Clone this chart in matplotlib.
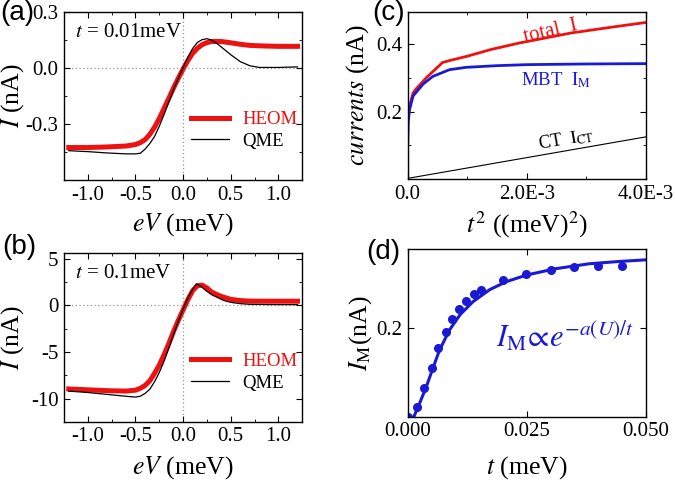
import numpy as np
import matplotlib
matplotlib.use("Agg")
import matplotlib.pyplot as plt

# ---------------------------------------------------------
# data
# ---------------------------------------------------------

# (a) t = 0.01 meV
va_heom = [-1.2, -1.0, -0.8, -0.6, -0.5, -0.45, -0.4, -0.35, -0.3, -0.25, -0.2, -0.15,
           -0.1, -0.05, 0.0, 0.05, 0.1, 0.15, 0.2, 0.25, 0.3, 0.4, 0.5, 0.6, 0.7, 0.85, 1.0, 1.2]
ia_heom = [-0.426, -0.426, -0.423, -0.418, -0.41, -0.40, -0.384, -0.356, -0.317, -0.27,
           -0.216, -0.162, -0.106, -0.054, -0.005, 0.040, 0.079, 0.106, 0.125, 0.136,
           0.142, 0.142, 0.135, 0.127, 0.121, 0.118, 0.116, 0.116]
va_qme = [-1.2, -1.0, -0.8, -0.6, -0.5, -0.45, -0.4, -0.35, -0.3, -0.25, -0.2, -0.15,
          -0.1, -0.05, 0.0, 0.05, 0.1, 0.15, 0.2, 0.25, 0.3, 0.35, 0.4, 0.5, 0.6, 0.7,
          0.8, 1.0, 1.2]
ia_qme = [-0.443, -0.448, -0.455, -0.46, -0.46, -0.457, -0.435, -0.405, -0.367, -0.312,
          -0.249, -0.182, -0.114, -0.055, 0.003, 0.058, 0.105, 0.137, 0.152, 0.157,
          0.149, 0.133, 0.113, 0.071, 0.034, 0.012, 0.003, 0.003, 0.006]

# (b) t = 0.1 meV
vb_heom = [-1.2, -1.0, -0.8, -0.6, -0.5, -0.45, -0.4, -0.35, -0.3, -0.25, -0.2, -0.15,
           -0.1, -0.05, 0.0, 0.05, 0.1, 0.15, 0.2, 0.25, 0.3, 0.4, 0.5, 0.6, 0.7, 0.9, 1.2]
ib_heom = [-8.97, -9.06, -9.15, -9.2, -9.1, -8.9, -8.6, -8.1, -7.3, -6.4, -5.3, -4.1,
           -2.8, -1.6, -0.5, 0.6, 1.56, 2.1, 2.15, 1.85, 1.4, 0.94, 0.63, 0.5, 0.44, 0.43, 0.43]
vb_qme = [-1.2, -1.0, -0.8, -0.6, -0.5, -0.45, -0.4, -0.35, -0.3, -0.25, -0.2, -0.15,
          -0.1, -0.05, 0.0, 0.05, 0.1, 0.14, 0.19, 0.24, 0.3, 0.37, 0.43, 0.5, 0.6, 0.7,
          0.9, 1.2]
ib_qme = [-9.2, -9.35, -9.55, -9.75, -9.84, -9.75, -9.45, -9.0, -8.2, -7.2, -6.0, -4.6,
          -3.1, -1.7, -0.4, 0.8, 1.7, 2.28, 2.0, 1.56, 1.12, 0.78, 0.5, 0.31, 0.17, 0.1,
          0.07, 0.06]

# (c) currents vs t^2
t2_tot = [0.0, 0.0, 0.00001, 0.00003, 0.00009, 0.000145, 0.000256, 0.00031, 0.00042,
          0.00053, 0.00058, 0.0007, 0.001, 0.0014, 0.00187, 0.00275, 0.0035, 0.004]
i_tot = [0.0, 0.167, 0.19, 0.215, 0.255, 0.268, 0.289, 0.30, 0.318, 0.336, 0.345, 0.351,
         0.364, 0.384, 0.403, 0.433, 0.452, 0.464]
t2_mbt = [0.0, 0.00001, 0.00003, 0.00009, 0.000256, 0.00042, 0.0007, 0.00098, 0.0015,
          0.002, 0.003, 0.004]
i_mbt = [0.10, 0.17, 0.205, 0.246, 0.281, 0.304, 0.324, 0.331, 0.336, 0.339, 0.341, 0.342]
t2_ct = [0.0, 0.004]
i_ct = [0.002, 0.125]

# (d) I_M vs t: HEOM points and fit
t_pts = [0.0, 0.0019, 0.0034, 0.005, 0.0064, 0.008, 0.0094, 0.0108, 0.0123, 0.0139,
         0.0154, 0.0199, 0.0249, 0.030, 0.035, 0.040, 0.045]
im_pts = [0.0, 0.022, 0.064, 0.110, 0.154, 0.191, 0.220, 0.242, 0.260, 0.275, 0.285,
          0.307, 0.320, 0.330, 0.335, 0.337, 0.339]
t_fit = [0.0013, 0.0025, 0.0039, 0.0053, 0.0067, 0.0088, 0.011, 0.0137, 0.0172, 0.0207,
         0.025, 0.031, 0.038, 0.044, 0.05]
im_fit = [0.0, 0.030, 0.067, 0.109, 0.150, 0.195, 0.229, 0.258, 0.285, 0.303, 0.318,
          0.332, 0.343, 0.348, 0.352]

v_ticks = [-1.0, -0.5, 0.0, 0.5, 1.0]
v_ticklabels = ["-1.0", "-0.5", "0.0", "0.5", "1.0"]
ya_ticks = [-0.3, 0.0, 0.3]
ya_ticklabels = ["-0.3", "0.0", "0.3"]
yb_ticks = [-10, -5, 0, 5]
yb_ticklabels = ["-10", "-5", "0", "5"]
xc_ticks = [0.0, 0.002, 0.004]
xc_ticklabels = ["0.0", "2.0E-3", "4.0E-3"]
yc_ticks = [0.2, 0.4]
yc_ticklabels = ["0.2", "0.4"]
xd_ticks = [0.0, 0.025, 0.05]
xd_ticklabels = ["0.000", "0.025", "0.050"]
yd_ticks = [0.2]
yd_ticklabels = ["0.2"]

# ---------------------------------------------------------
# style
# ---------------------------------------------------------

plt.rcParams["font.family"] = ["Liberation Serif", "DejaVu Serif"]
plt.rcParams["mathtext.fontset"] = "stix"
plt.rcParams["xtick.direction"] = "in"
plt.rcParams["ytick.direction"] = "in"
plt.rcParams["xtick.top"] = True
plt.rcParams["ytick.right"] = True
plt.rcParams["xtick.major.size"] = 4
plt.rcParams["ytick.major.size"] = 4
plt.rcParams["xtick.minor.size"] = 2.5
plt.rcParams["ytick.minor.size"] = 2.5
plt.rcParams["axes.linewidth"] = 1.0

RED = "#ee1111"
BLUE = "#1a1ad6"
TICK_FS = 15
LABEL_FS = 18.5

fig = plt.figure(figsize=(6.75, 4.8), dpi=100)

ax_a = fig.add_axes([0.0948, 0.625, 0.353, 0.35])
ax_b = fig.add_axes([0.0948, 0.121, 0.353, 0.352])
ax_c = fig.add_axes([0.604, 0.627, 0.353, 0.348])
ax_d = fig.add_axes([0.604, 0.132, 0.353, 0.349])


def style_axis(ax, xt, xtl, yt, ytl):
    ax.set_xticks(xt)
    ax.set_xticklabels(xtl)
    ax.set_yticks(yt)
    ax.set_yticklabels(ytl)
    ax.tick_params(labelsize=TICK_FS, pad=4)


# ---------------------------------------------------------
# (a) and (b)
# ---------------------------------------------------------

for ax, vh, ih, vq, iq, yt, ytl, ylim, yminor, tlabel in [
    (ax_a, va_heom, ia_heom, va_qme, ia_qme, ya_ticks, ya_ticklabels,
     (-0.55, 0.3), 0.15, "$t$ = 0.01meV"),
    (ax_b, vb_heom, ib_heom, vb_qme, ib_qme, yb_ticks, yb_ticklabels,
     (-10.5, 5.6), 2.5, "$t$ = 0.1meV"),
]:
    ax.axhline(0, color="#999999", lw=0.9, ls=(0, (1, 2)), zorder=1)
    ax.axvline(0, color="#999999", lw=0.9, ls=(0, (1, 2)), zorder=1)
    ax.plot(vh, ih, color=RED, lw=3.6, label="HEOM", zorder=2)
    ax.plot(vq, iq, color="black", lw=0.9, label="QME", zorder=3)
    ax.set_xlim(-1.2, 1.2)
    ax.set_ylim(*ylim)
    style_axis(ax, v_ticks, v_ticklabels, yt, ytl)
    ax.set_xticks(np.arange(-1.25, 1.3, 0.25), minor=True)
    ax.set_yticks(np.arange(-12.5, 6, yminor) if yminor > 1 else np.arange(-0.6, 0.31, yminor),
                  minor=True)
    ax.set_xlabel("$eV$ (meV)", fontsize=LABEL_FS)
    ax.set_ylabel("$I$ (nA)", fontsize=LABEL_FS)
    ax.yaxis.set_label_coords(-0.16, 0.5)
    ax.text(0.046, 0.85, tlabel, transform=ax.transAxes, fontsize=15, va="baseline")
    leg = ax.legend(loc="upper left", bbox_to_anchor=(0.535, 0.41), frameon=False,
                    fontsize=13.5, handlelength=2.0, handletextpad=0.7,
                    labelspacing=0.25, borderpad=0, borderaxespad=0)
    leg.get_texts()[0].set_color(RED)

ax_a.xaxis.set_label_coords(0.5, -0.185)
ax_b.xaxis.set_label_coords(0.5, -0.19)

# ---------------------------------------------------------
# (c)
# ---------------------------------------------------------

ax_c.plot(t2_ct, i_ct, color="black", lw=0.8)
ax_c.plot(t2_tot, i_tot, color=RED, lw=2.0)
ax_c.plot(t2_mbt, i_mbt, color=BLUE, lw=2.0)
ax_c.set_xlim(0, 0.004)
ax_c.set_ylim(0, 0.495)
style_axis(ax_c, xc_ticks, xc_ticklabels, yc_ticks, yc_ticklabels)
ax_c.set_xticks([0.001, 0.003], minor=True)
ax_c.set_yticks([0.1, 0.3], minor=True)
ax_c.set_xlabel("$t^2$ ((meV)$^2$)", fontsize=LABEL_FS)
ax_c.set_ylabel(r"$\mathit{currents}$ (nA)", fontsize=LABEL_FS)
ax_c.xaxis.set_label_coords(0.5, -0.18)
ax_c.yaxis.set_label_coords(-0.155, 0.5)
ax_c.text(0.0024, 0.437, "total  I", color=RED, fontsize=15, rotation=13,
          ha="center", va="center")
ax_c.text(0.00248, 0.294, r"MBT  $\mathrm{I_{M}}$", color=BLUE, fontsize=13.5,
          ha="center", va="center")
ax_c.text(0.00266, 0.118, r"CT  $\mathrm{I_{CT}}$", color="black", fontsize=13,
          rotation=10, ha="center", va="center")

# ---------------------------------------------------------
# (d)
# ---------------------------------------------------------

ax_d.plot(t_fit, im_fit, color=BLUE, lw=2.2)
ax_d.plot(t_pts, im_pts, "o", color=BLUE, ms=5.5)
ax_d.set_xlim(0, 0.05)
ax_d.set_ylim(0, 0.376)
style_axis(ax_d, xd_ticks, xd_ticklabels, yd_ticks, yd_ticklabels)
ax_d.set_xlabel("$t$ (meV)", fontsize=LABEL_FS)
ax_d.set_ylabel(r"$I_{\mathrm{M}}$(nA)", fontsize=LABEL_FS)
ax_d.xaxis.set_label_coords(0.5, -0.225)
ax_d.yaxis.set_label_coords(-0.14, 0.5)
ax_d.text(0.0186, 0.157, r"$I_{\mathrm{M}}\!\propto\! e^{-a(U)/t}$", color=BLUE,
          fontsize=22, va="baseline")

# panel letters
for label, x, y in [("(a)", 0.0, 20), ("(b)", 0.003, 254), ("(c)", 0.552, 20),
                    ("(d)", 0.543, 259)]:
    fig.text(x, 1 - y / 480, label, fontsize=20, family=["Liberation Sans", "DejaVu Sans"],
             va="baseline")

fig.savefig("out.png", dpi=100)
